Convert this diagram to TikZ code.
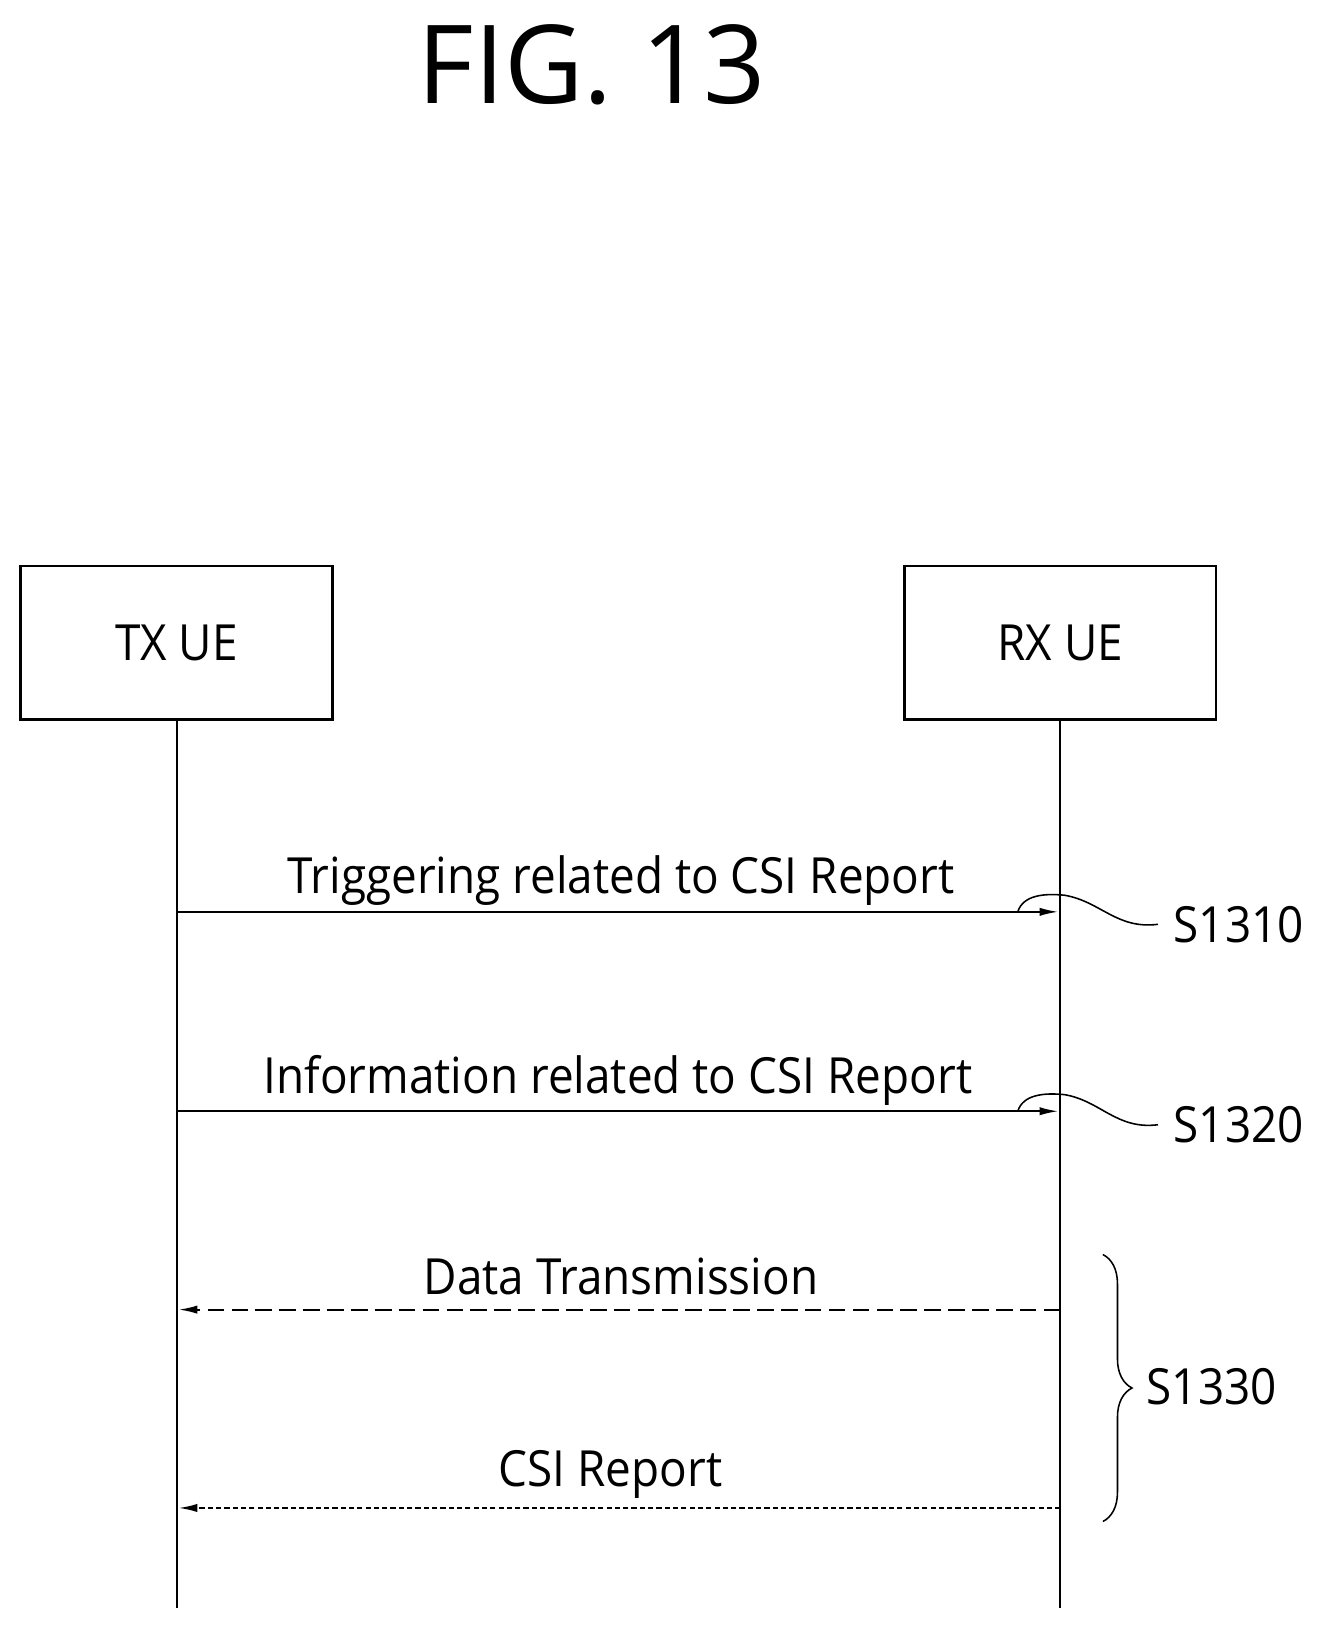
\documentclass[tikz,border=0pt]{standalone}
\usepackage{fontspec}
\setmainfont{Open Sans}
\usetikzlibrary{arrows.meta,decorations.pathreplacing}
\newcommand\nt[1]{\scalebox{0.92}[1]{#1}}
\begin{document}
\begin{tikzpicture}[x=1pt,y=-1pt,
  box/.style={draw,line width=2.5pt,minimum width=300pt,minimum height=148pt,inner sep=0pt,font=\fontsize{48}{52}\selectfont},
  lab/.style={font=\fontsize{48}{52}\selectfont,inner sep=0pt},
  life/.style={line width=2pt},
  msg/.style={line width=1.8pt,-{Latex[length=18pt,width=8pt]}},
  lead/.style={line width=1.5pt}]
\useasboundingbox (0,0) rectangle (1280,1583);
\node[font=\fontsize{105}{110}\selectfont] (title) at (570,62) {FIG. 13};
\node[box] (tx) at (170,619) {\nt{TX UE}};
\node[box] (rx) at (1021,619) {\nt{RX UE}};
\coordinate (txe) at (170,1548);
\coordinate (rxe) at (1021,1548);
\draw[life] (tx.south) -- (txe);
\draw[life] (rx.south) -- (rxe);
\coordinate (a1s) at (170,878); \coordinate (a1e) at (1019,878);
\coordinate (a2s) at (170,1070); \coordinate (a2e) at (1019,1070);
\coordinate (a3s) at (1021,1261); \coordinate (a3e) at (172,1261);
\coordinate (a4s) at (1021,1452); \coordinate (a4e) at (172,1452);
\draw[msg] (a1s) -- (a1e);
\draw[msg] (a2s) -- (a2e);
\draw[msg,dash pattern=on 16pt off 7pt] (a3s) -- (a3e);
\draw[msg,dash pattern=on 5pt off 3pt] (a4s) -- (a4e);
\node[lab] (l1) at (598,848) {\nt{Triggering related to CSI Report}};
\node[lab] (l2) at (595,1040) {\nt{Information related to CSI Report}};
\node[lab] (l3) at (598,1229) {\nt{Data Transmission}};
\node[lab] (l4) at (588,1420) {\nt{CSI Report}};
\node[lab,anchor=west] (s1) at (1130,890) {\nt{S1310}};
\node[lab,anchor=west] (s2) at (1130,1083) {\nt{S1320}};
\node[lab,anchor=west] (s3) at (1104,1335) {\nt{S1330}};
\draw[lead] (980,878) .. controls (985,862) and (1005,860) .. (1025,862)
  .. controls (1060,868) and (1075,895) .. (1115,890);
\draw[lead] (980,1070) .. controls (985,1054) and (1005,1052) .. (1025,1054)
  .. controls (1060,1060) and (1075,1088) .. (1115,1083);
\draw[lead,decorate,decoration={brace,amplitude=28pt,aspect=0.5}] (1062,1208) -- (1062,1465);
\end{tikzpicture}
\end{document}
